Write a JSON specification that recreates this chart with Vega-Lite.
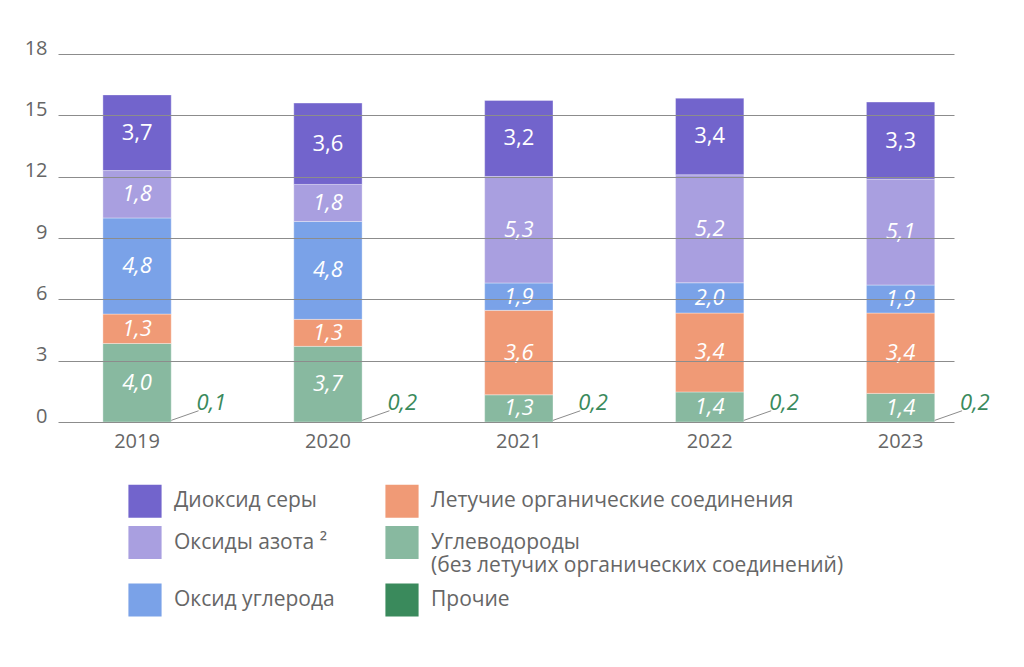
{
  "$schema": "https://vega.github.io/schema/vega-lite/v6.json",
  "width": 896,
  "height": 368,
  "autosize": {"type": "none"},
  "padding": {"left": 58, "top": 54, "right": 70, "bottom": 245},
  "background": "white",
  "config": {
    "view": {"stroke": null},
    "font": "Open Sans",
    "text": {"font": "Open Sans"}
  },
  "data": {
    "values": [
      {"year": "2019", "cat": "Углеводороды", "value": 3.84, "label": "4,0"},
      {"year": "2019", "cat": "Летучие органические соединения", "value": 1.44, "label": "1,3"},
      {"year": "2019", "cat": "Оксид углерода", "value": 4.70, "label": "4,8"},
      {"year": "2019", "cat": "Оксиды азота ²", "value": 2.32, "label": "1,8"},
      {"year": "2019", "cat": "Диоксид серы", "value": 3.70, "label": "3,7"},
      {"year": "2019", "cat": "Прочие", "value": 0.1, "label": "0,1"},
      {"year": "2020", "cat": "Углеводороды", "value": 3.70, "label": "3,7"},
      {"year": "2020", "cat": "Летучие органические соединения", "value": 1.32, "label": "1,3"},
      {"year": "2020", "cat": "Оксид углерода", "value": 4.79, "label": "4,8"},
      {"year": "2020", "cat": "Оксиды азота ²", "value": 1.81, "label": "1,8"},
      {"year": "2020", "cat": "Диоксид серы", "value": 3.98, "label": "3,6"},
      {"year": "2020", "cat": "Прочие", "value": 0.2, "label": "0,2"},
      {"year": "2021", "cat": "Углеводороды", "value": 1.33, "label": "1,3"},
      {"year": "2021", "cat": "Летучие органические соединения", "value": 4.13, "label": "3,6"},
      {"year": "2021", "cat": "Оксид углерода", "value": 1.34, "label": "1,9"},
      {"year": "2021", "cat": "Оксиды азота ²", "value": 5.21, "label": "5,3"},
      {"year": "2021", "cat": "Диоксид серы", "value": 3.72, "label": "3,2"},
      {"year": "2021", "cat": "Прочие", "value": 0.2, "label": "0,2"},
      {"year": "2022", "cat": "Углеводороды", "value": 1.47, "label": "1,4"},
      {"year": "2022", "cat": "Летучие органические соединения", "value": 3.86, "label": "3,4"},
      {"year": "2022", "cat": "Оксид углерода", "value": 1.48, "label": "2,0"},
      {"year": "2022", "cat": "Оксиды азота ²", "value": 5.28, "label": "5,2"},
      {"year": "2022", "cat": "Диоксид серы", "value": 3.75, "label": "3,4"},
      {"year": "2022", "cat": "Прочие", "value": 0.2, "label": "0,2"},
      {"year": "2023", "cat": "Углеводороды", "value": 1.40, "label": "1,4"},
      {"year": "2023", "cat": "Летучие органические соединения", "value": 3.93, "label": "3,4"},
      {"year": "2023", "cat": "Оксид углерода", "value": 1.37, "label": "1,9"},
      {"year": "2023", "cat": "Оксиды азота ²", "value": 5.18, "label": "5,1"},
      {"year": "2023", "cat": "Диоксид серы", "value": 3.77, "label": "3,3"},
      {"year": "2023", "cat": "Прочие", "value": 0.2, "label": "0,2"}
    ]
  },
  "encoding": {
    "x": {
      "field": "year",
      "type": "nominal",
      "title": null,
      "scale": {"paddingInner": 0.642, "paddingOuter": 0.168, "align": 0.7},
      "axis": {
        "labelAngle": 0,
        "labelFontSize": 20,
        "labelColor": "#666666",
        "labelPadding": 9,
        "labelBaseline": "top",
        "domain": false,
        "ticks": false
      }
    }
  },
  "layer": [
    {
      "transform": [
        {"filter": "datum.cat !== 'Прочие'"},
        {"calculate": "indexof(['Углеводороды','Летучие органические соединения','Оксид углерода','Оксиды азота ²','Диоксид серы'], datum.cat)", "as": "ord"},
        {"stack": "value", "groupby": ["year"], "sort": [{"field": "ord", "order": "ascending"}], "as": ["y0", "y1"]},
        {"calculate": "(datum.y0 + datum.y1) / 2", "as": "mid"}
      ],
      "layer": [
        {
          "mark": {"type": "bar", "stroke": "#ffffff", "strokeOpacity": 0.35, "strokeWidth": 1},
          "encoding": {
            "y": {
              "field": "y0",
              "type": "quantitative",
              "title": null,
              "scale": {"domain": [0, 18], "nice": false},
              "axis": {
                "values": [0, 3, 6, 9, 12, 15, 18],
                "zindex": 1,
                "grid": true,
                "gridColor": "#8c8c8c",
                "gridWidth": 1,
                "domain": false,
                "ticks": false,
                "labelFontSize": 20,
                "labelColor": "#666666",
                "labelBaseline": "alphabetic",
                "labelPadding": 11
              }
            },
            "y2": {"field": "y1"},
            "color": {
              "field": "cat",
              "type": "nominal",
              "scale": {
                "domain": ["Диоксид серы", "Оксиды азота ²", "Оксид углерода", "Летучие органические соединения", "Углеводороды", "Прочие"],
                "range": ["#7264cc", "#a99fe0", "#7aa2e8", "#f09a76", "#88b9a0", "#3a8a5c"]
              },
              "legend": {
                "title": null,
                "orient": "none",
                "legendX": 70,
                "legendY": 430,
                "columns": 2,
                "columnPadding": 50,
                "rowPadding": 7.5,
                "padding": 0,
                "symbolType": "square",
                "symbolSize": 1100,
                "symbolStrokeWidth": 0,
                "symbolOpacity": 1,
                "labelFontSize": 21,
                "labelColor": "#666666",
                "labelOffset": 12,
                "labelLimit": 600,
                "labelExpr": "datum.label === 'Углеводороды' ? ['Углеводороды', '(без летучих органических соединений)'] : datum.label"
              }
            }
          }
        },
        {
          "transform": [{"filter": "datum.cat === 'Диоксид серы'"}],
          "mark": {"type": "text", "color": "white", "fontSize": 22, "baseline": "middle"},
          "encoding": {
            "y": {"field": "mid", "type": "quantitative"},
            "text": {"field": "label"}
          }
        },
        {
          "transform": [{"filter": "datum.cat !== 'Диоксид серы'"}],
          "mark": {"type": "text", "color": "white", "fontSize": 22, "fontStyle": "italic", "baseline": "middle"},
          "encoding": {
            "y": {"field": "mid", "type": "quantitative"},
            "text": {"field": "label"}
          }
        }
      ]
    },
    {
      "transform": [{"filter": "datum.cat === 'Прочие'"}],
      "mark": {"type": "rule", "color": "#8c8c8c", "strokeWidth": 1},
      "encoding": {
        "x": {"field": "year", "type": "nominal", "bandPosition": 1},
        "x2": {"field": "year", "bandPosition": 1.4},
        "y": {"datum": 0.08},
        "y2": {"datum": 0.55}
      }
    },
    {
      "transform": [{"filter": "datum.cat === 'Прочие'"}],
      "mark": {"type": "text", "color": "#3a8a5c", "fontSize": 22, "fontStyle": "italic", "align": "left", "baseline": "alphabetic"},
      "encoding": {
        "x": {"field": "year", "type": "nominal", "bandPosition": 1.37},
        "y": {"datum": 0.6},
        "text": {"field": "label"}
      }
    }
  ]
}
